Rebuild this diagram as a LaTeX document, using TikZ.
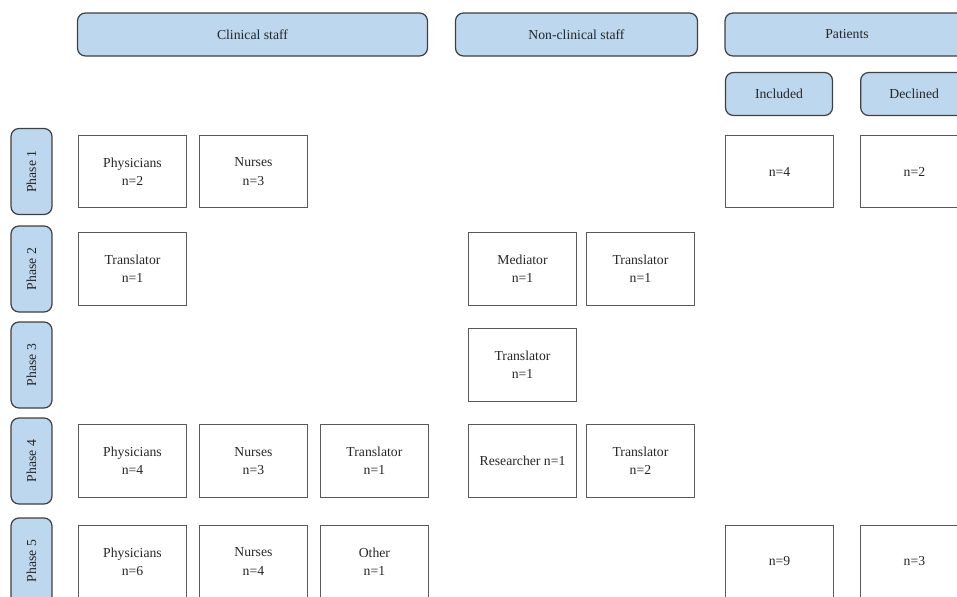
\documentclass[tikz,border=0pt]{standalone}
\usepackage{fontspec}
\setmainfont{Liberation Serif}
\usetikzlibrary{positioning}
\definecolor{hdrblue}{HTML}{BDD7EE}
\definecolor{edgegray}{HTML}{404040}
\definecolor{boxgray}{HTML}{595959}
\definecolor{txtgray}{HTML}{262626}

\begin{document}
\begin{tikzpicture}[x=0.02cm, y=-0.02cm, font=\fontsize{7.8}{10.4}\selectfont, text=txtgray,
    hdr/.style={draw=edgegray, fill=hdrblue, rounded corners=4.5pt, line width=0.7pt, minimum height=0.86cm, inner sep=0pt},
    phase/.style={hdr, rotate=90, minimum width=1.72cm, minimum height=0.82cm},
    cell/.style={draw=boxgray, line width=0.7pt, minimum width=2.16cm, minimum height=1.45cm, align=center, inner sep=0pt}]
            \useasboundingbox (0,0) rectangle (957,596);
            \clip (0,0) rectangle (957,596);

            % column heads
            \node[hdr, minimum width=7.0cm] (clin) at (252.5,34.5) {Clinical staff};
            \node[hdr, minimum width=4.84cm] (nonclin) at (576.5,34.5) {Non-clinical staff};
            \node[hdr, minimum width=4.88cm] (pat) at (847,34.5) {Patients};
            \node[hdr, minimum width=2.14cm, minimum height=0.86cm] (incl) at (779,94) {Included};
            \node[hdr, minimum width=2.14cm, minimum height=0.86cm] (decl) [right = 0.54cm of incl] {Declined};

            % phases
            \node[phase] (ph1) at (31.5,171.5) {Phase 1};
            \node[phase] (ph2) at (31.5,269) {Phase 2};
            \node[phase] (ph3) at (31.5,365) {Phase 3};
            \node[phase] (ph4) at (31.5,461) {Phase 4};
            \node[phase] (ph5) at (31.5,561) {Phase 5};

            % phase 1
            \node[cell] (c11) at (132.5,171.5) {Physicians\\n=2};
            \node[cell] (c12) [right = 0.235cm of c11] {Nurses\\n=3};
            \node[cell] (pi1) at (779.5,171.5) {n=4};
            \node[cell] (pd1) [right = 0.515cm of pi1] {n=2};

            % phase 2
            \node[cell] (c21) at (132.5,269) {Translator\\n=1};
            \node[cell] (n21) at (522.5,269) {Mediator\\n=1};
            \node[cell] (n22) [right = 0.175cm of n21] {Translator\\n=1};

            % phase 3
            \node[cell] (n31) at (522.5,365) {Translator\\n=1};

            % phase 4
            \node[cell] (c41) at (132.5,461) {Physicians\\n=4};
            \node[cell] (c42) [right = 0.235cm of c41] {Nurses\\n=3};
            \node[cell] (c43) [right = 0.235cm of c42] {Translator\\n=1};
            \node[cell] (n41) at (522.5,461) {Researcher n=1};
            \node[cell] (n42) [right = 0.175cm of n41] {Translator\\n=2};

            % phase 5
            \node[cell] (c51) at (132.5,561.5) {Physicians\\n=6};
            \node[cell] (c52) [right = 0.235cm of c51] {Nurses\\n=4};
            \node[cell] (c53) [right = 0.235cm of c52] {Other\\n=1};
            \node[cell] (pi5) at (779.5,561.5) {n=9};
            \node[cell] (pd5) [right = 0.515cm of pi5] {n=3};
          \end{tikzpicture}
\end{document}
